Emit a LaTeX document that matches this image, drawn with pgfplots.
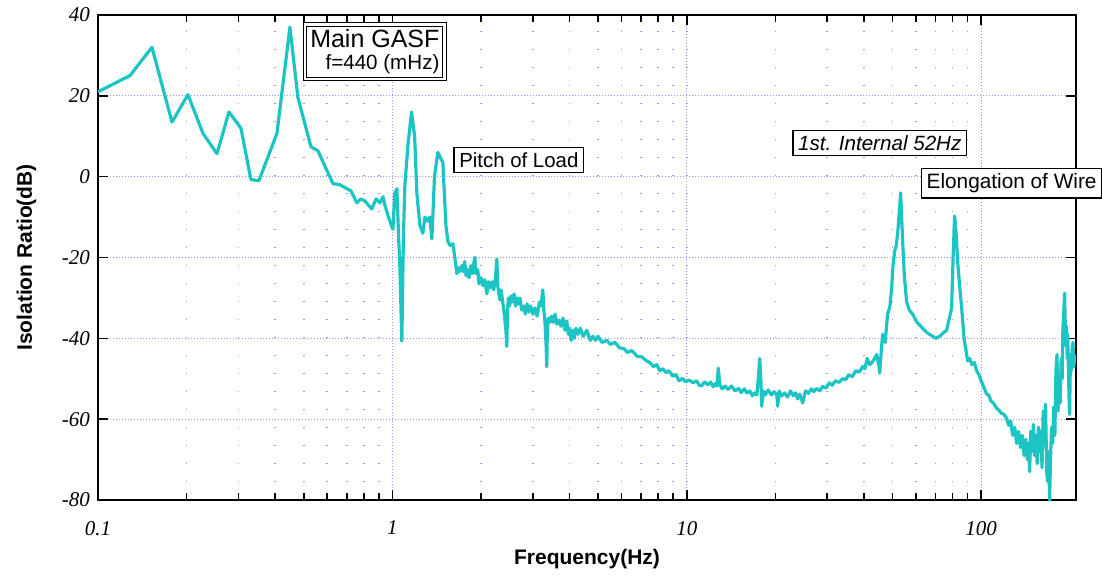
\documentclass[border=0pt]{standalone}
\usepackage{pgfplots}
\pgfplotsset{compat=1.18}
\usepackage{fontspec}
\setmainfont{Liberation Serif}
\setsansfont{Liberation Sans}
\definecolor{trace}{RGB}{28,196,196}
\definecolor{gridc}{RGB}{150,150,245}
\begin{document}
\begin{tikzpicture}
\useasboundingbox (-49pt,-39.5pt) rectangle (502pt,250pt);
\begin{axis}[
  scale only axis, width=489pt, height=242.5pt,
  xmode=log, xmin=0.1, xmax=210, ymin=-80, ymax=40,
  xtick={0.1,1,10,100}, xticklabels={0.1,1,10,100},
  ytick={-80,-60,-40,-20,0,20,40},
  yticklabels={-80,-60,-40,-20,0,20,40},
  tick align=inside, major tick length=5pt, minor tick length=3.5pt,
  tick style={black, line width=0.8pt},
  axis line style={line width=1.3pt},
  grid=both,
  major grid style={gridc, line width=0.6pt, dash pattern=on 0.5pt off 1pt},
  minor grid style={gridc, line width=0.8pt, dash pattern=on 0.6pt off 8.4pt},
  minor y tick num=0,
  ticklabel style={font=\itshape\fontsize{10.5}{12}\selectfont},
  xticklabel style={yshift=-7pt},
  yticklabel style={xshift=-0.5pt},
  xlabel={Frequency(Hz)}, ylabel={Isolation Ratio(dB)},
  label style={font=\sffamily\bfseries\fontsize{10.5}{12}\selectfont},
  xlabel style={yshift=0pt},
  ylabel style={yshift=6pt},
  clip mode=individual,
]
\addplot[trace, line width=1.6pt, line join=round] coordinates {
(0.1,21)(0.1284,25)(0.1525,32)(0.1784,13.5)(0.2021,20.3)(0.2273,10.7)(0.2536,5.7)
(0.2785,16)(0.3059,12)(0.3307,-0.7)(0.3521,-1)(0.4054,10.7)(0.4487,37)(0.4776,19.6)
(0.5289,7.4)(0.5585,6.4)(0.6281,-1.7)(0.6633,-2)(0.7230,-3.5)(0.7578,-6.5)(0.78,-5.5)
(0.8064,-6)(0.8519,-8)(0.88,-5.5)(0.9070,-6.5)(0.93,-5)(0.9430,-7)(0.97,-10)(1.004,-13)
(1.02,-4)(1.036,-3)(1.05,-15)(1.060,-22)(1.077,-40.7)(1.09,-15)(1.103,-2)(1.13,8)
(1.162,16)(1.19,10)(1.211,-4)(1.24,-12)(1.269,-14)(1.29,-10)(1.320,-11)(1.34,-10)
(1.362,-15.4)(1.39,0)(1.427,6)(1.45,5)(1.484,3.5)(1.52,-12)(1.544,-16)(1.57,-17)
(1.605,-16.6)(1.63,-20)(1.656,-24)(1.67,-22.5)(1.69,-23.5)(1.722,-22)(1.74,-23.5)
(1.76,-21)(1.78,-24.5)(1.80,-23)(1.82,-25)(1.85,-22)(1.87,-24)(1.89,-21.5)(1.906,-20)
(1.92,-24)(1.95,-23)(1.97,-26.5)(2.0,-25)(2.03,-27)(2.06,-25.5)(2.094,-29)(2.12,-26)
(2.15,-27.5)(2.18,-26)(2.21,-28)(2.24,-25)(2.264,-20.4)(2.28,-27)(2.30,-29)(2.32,-30.5)
(2.34,-28)(2.37,-31)(2.40,-34)(2.43,-38)(2.448,-42)(2.46,-33)(2.48,-30)(2.50,-32)
(2.53,-29.5)(2.56,-31)(2.59,-29)(2.62,-32)(2.65,-30)(2.68,-31.5)(2.71,-30)(2.75,-33)
(2.79,-32)(2.83,-34)(2.87,-31.5)(2.91,-33.5)(2.95,-32)(3.0,-34)(3.05,-32.5)(3.1,-34.5)
(3.16,-31)(3.2,-32)(3.243,-28)(3.27,-33)(3.3,-36)(3.33,-42)(3.346,-47)(3.36,-38)
(3.39,-35)(3.43,-36)(3.47,-34.5)(3.52,-36)(3.57,-34)(3.62,-36.5)(3.68,-35.5)(3.74,-37)
(3.8,-35)(3.86,-38)(3.913,-35.7)(3.96,-39)(4.0,-37.5)(4.05,-40.5)(4.101,-38)(4.15,-40)
(4.2,-37.5)(4.27,-39)(4.35,-37.5)(4.45,-39.5)(4.576,-38)(4.7,-40.5)(4.8,-39.5)
(4.9,-40.5)(5.0,-39.5)(5.15,-41)(5.350,-40.5)(5.5,-41.5)(5.7,-41)(5.925,-42.4)
(6.1,-42.5)(6.3,-43.5)(6.5,-43)(6.8,-44.5)(7.0,-44.5)(7.315,-45.6)(7.5,-46)(7.7,-47)
(7.9,-46.5)(8.098,-48)(8.3,-47.5)(8.5,-48.5)(8.7,-48)(8.966,-49.4)(9.2,-49)(9.4,-50.5)
(9.69,-49.9)(9.9,-50.8)(10.2,-50.3)(10.5,-51)(10.8,-50.5)(11.0,-51.5)(11.2,-51.8)
(11.5,-50.8)(11.8,-51.5)(12.05,-50.8)(12.3,-52)(12.5,-51.2)(12.65,-51.8)(12.8,-47.4)
(12.95,-51.5)(13.2,-52.5)(13.5,-51.8)(13.8,-52.6)(14.2,-51.8)(14.6,-53)(15.0,-52.4)
(15.3,-53.4)(15.7,-52.5)(16.0,-53.5)(16.37,-53)(16.7,-54.2)(17.0,-53.5)(17.3,-54)
(17.5,-50)(17.70,-45)(17.85,-50)(17.98,-56.8)(18.2,-53)(18.5,-54)(18.9,-52.8)
(19.4,-54)(19.8,-53.2)(20.22,-54)(20.37,-56.8)(20.6,-53)(21.0,-54.3)(21.5,-53.5)
(22.0,-54.5)(22.5,-53)(23.0,-54.2)(23.4,-53.5)(23.8,-55)(24.20,-53.8)(24.77,-56)
(25.3,-53)(25.9,-53.6)(26.5,-52.5)(27.0,-53.2)(27.6,-52.4)(28.3,-53)(28.96,-51.9)
(29.7,-52.3)(30.5,-51)(31.2,-51.6)(32,-50.5)(32.9,-50.9)(33.86,-50)(34.7,-50.2)
(35.5,-49)(36.5,-49.5)(37.5,-48)(38.5,-48.4)(39.59,-47)(40.3,-47.5)(41,-45)(41.8,-46.5)
(42.5,-46)(43.3,-45.2)(44.18,-44)(45,-47)(45.22,-48.6)(45.8,-43)(46.29,-39)(47.2,-41)
(47.7,-37)(48.13,-34)(49,-32)(49.66,-27.5)(50.2,-22)(50.84,-18.4)(51.5,-17)(52.05,-14)
(52.7,-9)(53.28,-4)(53.7,-10)(54.12,-16)(54.9,-25)(55.85,-31)(57,-33)(58.53,-34)
(60.5,-36)(63.30,-37.5)(65.5,-38.6)(68.45,-39.5)(70,-40)(72.30,-39.5)(74.5,-38.6)
(76.35,-38)(78,-35)(79.38,-32.5)(80.3,-20)(81.28,-9.7)(82.2,-14)(83.23,-21)
(84.5,-27)(85.88,-32.5)(87.5,-40)(89.99,-45.6)(91.5,-45)(93,-46.5)(94.8,-46)
(96.54,-48)(98.3,-49)(100,-50.5)(102,-52)(104.4,-53.8)(106,-54)(108,-55.5)(110,-56)
(112.9,-57.3)(115,-57.8)(117,-58.5)(119.5,-58.8)(122.1,-59.8)(124,-61.5)(126,-60.5)
(128,-64)(130,-62)(132,-66)(134,-63)(136,-67)(138,-64)(140,-69)(142,-65)(143.5,-70)
(145,-66)(146.1,-73)(147.5,-63)(149,-68)(150.5,-61.3)(152,-69)(153.5,-64)(155,-71)
(156.5,-62)(158,-68)(159.5,-63)(161,-72)(162.5,-58)(164,-66)(165.5,-56.3)(167,-73)
(168.2,-75.4)(169.5,-68)(170.9,-80)(172,-70)(173.5,-62)(175,-66)(176.5,-57)(178,-64)
(179.5,-48)(181,-44)(182.5,-58)(184,-52)(185.5,-56)(187,-45)(188.5,-50)(189.5,-38)
(191,-33)(192.1,-28.8)(193,-36)(194,-42)(195,-37)(196,-45)(197,-39)(198,-48)(199,-55)
(199.8,-58.8)(200.5,-50)(201.5,-44)(202.5,-48)(203.5,-43)(205,-41)(206.5,-47)(208,-44)
};
\node[draw, double, double distance=1.2pt, line width=0.5pt, align=right, inner sep=2.5pt,
  fill=white, font=\sffamily] at (axis cs:0.872,30.9)
  {{\fontsize{12.5}{14}\selectfont Main GASF}\\[-1pt]{\fontsize{10.3}{11.5}\selectfont f=440 (mHz)}};
\node[draw, line width=0.8pt, inner sep=2.5pt, fill=white, font=\sffamily\fontsize{10.2}{12}\selectfont]
  at (axis cs:2.689,4.1) {Pitch of Load};
\node[draw, line width=0.8pt, inner sep=2.5pt, fill=white, font=\sffamily\itshape\fontsize{10.3}{12}\selectfont]
  at (axis cs:45.24,8.3) {1st. Internal 52Hz};
\node[draw, line width=0.8pt, inner sep=2.5pt, fill=white, font=\sffamily\fontsize{10.4}{12}\selectfont]
  at (axis cs:126.9,-1.6) {Elongation of Wire};
\end{axis}
\end{tikzpicture}
\end{document}
